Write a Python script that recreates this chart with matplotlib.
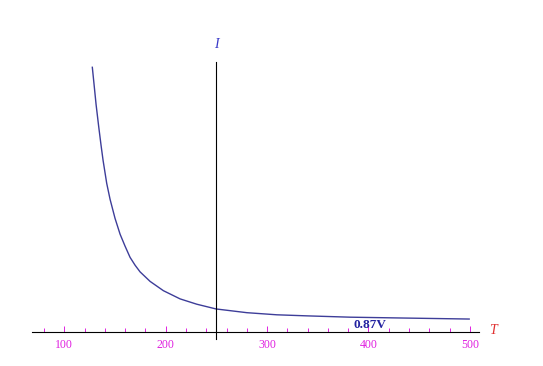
import matplotlib
matplotlib.use("Agg")
import matplotlib.pyplot as plt
from matplotlib.ticker import MultipleLocator

# values
temp = [127.6, 129.3, 131.3, 133.9, 136.2, 138.2, 141.8, 145.1, 150.0,
        155.0, 159.9, 164.8, 169.8, 174.7, 184.6, 197.7, 214.2, 230.6,
        249.7, 280.0, 309.6, 339.2, 381.9, 431.2, 499.3]
current = [1.000, 0.936, 0.860, 0.776, 0.706, 0.649, 0.562, 0.502, 0.430,
           0.370, 0.325, 0.283, 0.253, 0.228, 0.192, 0.157, 0.126, 0.106,
           0.088, 0.074, 0.066, 0.062, 0.057, 0.054, 0.050]
curve_label = "0.87V"
label_pos = (401.5, 0.028)
x_major = 100
x_minor = 20
y_axis_at = 250

W, H = 543, 366
fig = plt.figure(figsize=(W / 100, H / 100), dpi=100)
ax = fig.add_axes([32.3 / W, (H - 338.7) / H, (479 - 32.3) / W, (338.7 - 62) / H])

ax.plot(temp, current, color='#3d3d99', lw=1.0)
ax.text(*label_pos, curve_label, ha='center', va='center', fontsize=9.5,
        fontweight='bold', family='Liberation Serif', color='#2222a0')

ax.set_xlim(68.4, 509)
ax.set_ylim(-0.0242, 1.020)

for s in ['top', 'right']:
    ax.spines[s].set_visible(False)
ax.spines['bottom'].set_position(('data', 0))
ax.spines['left'].set_position(('data', y_axis_at))
ax.spines['bottom'].set_linewidth(0.8)
ax.spines['left'].set_linewidth(0.8)

ax.xaxis.set_major_locator(MultipleLocator(x_major))
ax.xaxis.set_minor_locator(MultipleLocator(x_minor))
ax.tick_params(axis='x', which='both', direction='in', colors='#e020e0',
               labelsize=8.5, pad=5, width=0.7)
ax.tick_params(axis='x', which='major', length=4)
ax.tick_params(axis='x', which='minor', length=2.8)
for lab in ax.get_xticklabels():
    lab.set_family('Liberation Serif')
ax.set_yticks([])

fig.text(493 / W, 1 - 331 / H, 'T', color='#e03030', fontsize=10, style='italic',
         family='Liberation Serif', ha='center', va='center')
fig.text(216 / W, 1 - 45 / H, 'I', color='#3a3ac8', fontsize=10, style='italic',
         family='Liberation Serif', ha='center', va='center')

fig.savefig('out.png', dpi=100)
